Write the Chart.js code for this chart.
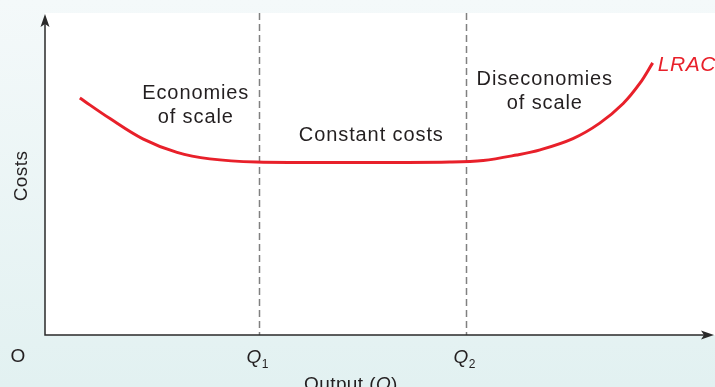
<!DOCTYPE html>
<html lang="en">
<head>
<meta charset="UTF-8">
<title>LRAC</title>
<script src="https://cdn.jsdelivr.net/npm/chart.js@4"></script>
<style>
  html, body { margin: 0; padding: 0; }
  body {
    width: 715px; height: 387px; overflow: hidden;
    background: linear-gradient(#f4f9fa, #e2f1f1);
  }
  #lracChart { display: block; }
</style>
</head>
<body>
<canvas id="lracChart" width="715" height="387"></canvas>
<script>
// output levels and long-run average cost
const outputX  = [5.2, 9.7, 14.6, 19.7, 24.6, 31.6, 41.0, 51.5, 60.4, 65.4, 70.4, 73.9, 78.8, 82.8, 86.3, 88.8, 90.7];
const lracCost = [73.6, 67.2, 60.9, 56.7, 54.7, 53.7, 53.6, 53.6, 53.7, 54.2, 55.9, 57.5, 61.0, 65.8, 71.9, 78.2, 84.5];

// the two output thresholds
const qMarks = [31.9, 62.8];
const qNames = ['1', '2'];

// region labels (data coordinates: x centre, y of first baseline)
const regionText = [
  { lines: ['Economies', 'of scale'], x: 22.5, y: 73.3 },
  { lines: ['Constant costs'], x: 48.7, y: 60.2 },
  { lines: ['Diseconomies', 'of scale'], x: 74.6, y: 77.6 }
];

const TEXT = '#231f20';
const RED = '#e8202a';
const FONT = '"Liberation Sans", Arial, sans-serif';

const drawing = {
  id: 'drawing',
  beforeDraw(chart) {
    const { ctx, chartArea: a } = chart;
    ctx.save();
    ctx.fillStyle = '#ffffff';
    ctx.fillRect(a.left, a.top, a.right - a.left, a.bottom - a.top);
    // dashed lines at Q1, Q2
    ctx.strokeStyle = '#808080';
    ctx.lineWidth = 1.5;
    ctx.setLineDash([7, 4]);
    qMarks.forEach(q => {
      const px = Math.round(chart.scales.x.getPixelForValue(q)) + 0.5;
      ctx.beginPath();
      ctx.moveTo(px, a.top);
      ctx.lineTo(px, a.bottom);
      ctx.stroke();
    });
    ctx.restore();
  },
  afterDraw(chart) {
    const { ctx, chartArea: a, scales } = chart;
    ctx.save();
    // axes with arrow heads
    ctx.strokeStyle = '#2a2a2a';
    ctx.fillStyle = '#2a2a2a';
    ctx.lineWidth = 1.5;
    ctx.beginPath();
    ctx.moveTo(a.left, a.top + 6);
    ctx.lineTo(a.left, a.bottom);
    ctx.lineTo(a.right - 6, a.bottom);
    ctx.stroke();
    ctx.beginPath();
    ctx.moveTo(a.left, a.top + 1);
    ctx.lineTo(a.left - 4.5, a.top + 14);
    ctx.lineTo(a.left, a.top + 11);
    ctx.lineTo(a.left + 4.5, a.top + 14);
    ctx.closePath();
    ctx.fill();
    ctx.beginPath();
    ctx.moveTo(a.right - 1, a.bottom);
    ctx.lineTo(a.right - 14, a.bottom - 4.5);
    ctx.lineTo(a.right - 11, a.bottom);
    ctx.lineTo(a.right - 14, a.bottom + 4.5);
    ctx.closePath();
    ctx.fill();

    // region labels
    ctx.fillStyle = TEXT;
    ctx.font = '20px ' + FONT;
    ctx.letterSpacing = '0.9px';
    ctx.textAlign = 'center';
    ctx.textBaseline = 'alphabetic';
    regionText.forEach(t => {
      const px = scales.x.getPixelForValue(t.x);
      const py = scales.y.getPixelForValue(t.y);
      t.lines.forEach((s, i) => ctx.fillText(s, px, py + i * 24));
    });

    // LRAC label
    const last = outputX.length - 1;
    ctx.fillStyle = RED;
    ctx.font = 'italic 21px ' + FONT;
    ctx.letterSpacing = '0.6px';
    ctx.textAlign = 'left';
    ctx.fillText('LRAC', scales.x.getPixelForValue(outputX[last]) + 5,
                 scales.y.getPixelForValue(lracCost[last]) + 8);

    // axis labels
    ctx.fillStyle = TEXT;
    ctx.font = '19px ' + FONT;
    ctx.letterSpacing = '0.4px';
    ctx.textAlign = 'center';
    ctx.fillText('O', 18, 362);
    ctx.fillText('Output (', 340, 390);
    const w1 = ctx.measureText('Output (').width;
    ctx.textAlign = 'left';
    ctx.font = 'italic 19px ' + FONT;
    ctx.fillText('Q', 340 + w1 / 2, 390);
    const wq = ctx.measureText('Q').width;
    ctx.font = '19px ' + FONT;
    ctx.fillText(')', 340 + w1 / 2 + wq, 390);

    qMarks.forEach((q, i) => {
      const px = scales.x.getPixelForValue(q);
      ctx.font = 'italic 19px ' + FONT;
      ctx.textAlign = 'right';
      ctx.fillText('Q', px + 3, 363);
      ctx.font = '12px ' + FONT;
      ctx.textAlign = 'left';
      ctx.fillText(qNames[i], px + 3, 368);
    });

    ctx.translate(27, 176);
    ctx.rotate(-Math.PI / 2);
    ctx.font = '19px ' + FONT;
    ctx.textAlign = 'center';
    ctx.fillText('Costs', 0, 0);
    ctx.restore();
  }
};

new Chart(document.getElementById('lracChart'), {
  type: 'line',
  data: {
    datasets: [{
      label: 'LRAC',
      data: outputX.map((x, i) => ({ x: x, y: lracCost[i] })),
      borderColor: RED,
      borderWidth: 3,
      pointRadius: 0,
      tension: 0.35,
      fill: false
    }]
  },
  options: {
    responsive: false,
    animation: false,
    devicePixelRatio: 1,
    layout: { padding: { left: 45, right: 0, top: 13, bottom: 52 } },
    plugins: { legend: { display: false }, tooltip: { enabled: false } },
    scales: {
      x: { type: 'linear', min: 0, max: 100, display: false },
      y: { type: 'linear', min: 0, max: 100, display: false }
    }
  },
  plugins: [drawing]
});
</script>
</body>
</html>
